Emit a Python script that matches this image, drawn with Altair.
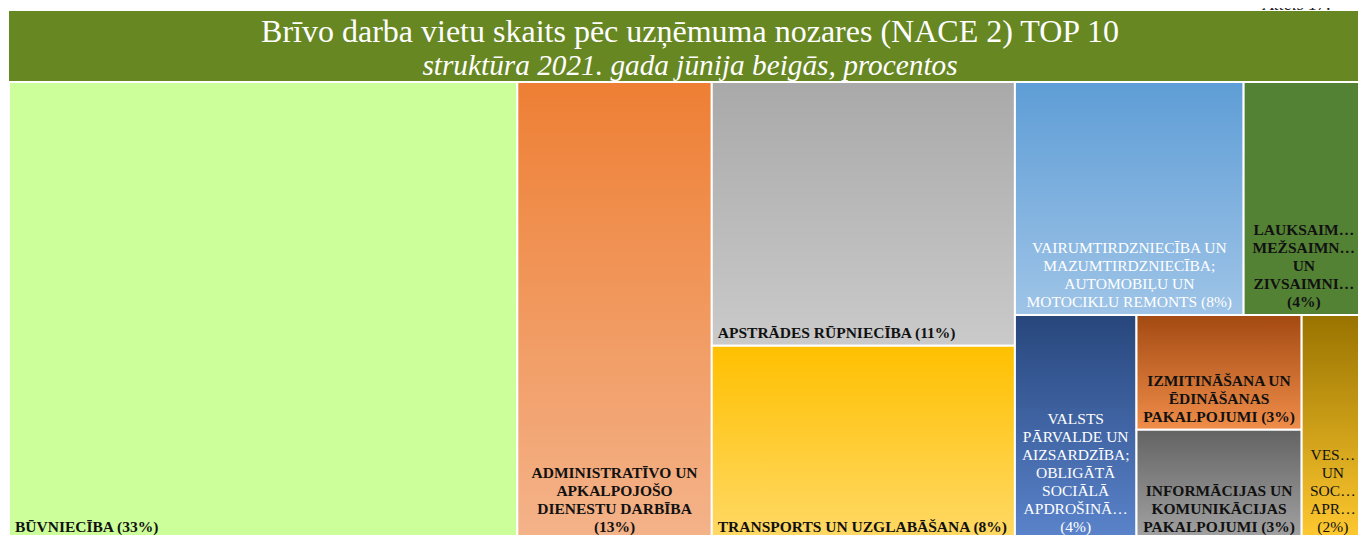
import altair as alt
import pandas as pd

# ---------------- data ----------------
categories = [
    "Būvniecība",
    "Administratīvo un apkalpojošo dienestu darbība",
    "Apstrādes rūpniecība",
    "Transports un uzglabāšana",
    "Vairumtirdzniecība un mazumtirdzniecība; automobiļu un motociklu remonts",
    "Lauksaimniecība, mežsaimniecība un zivsaimniecība",
    "Valsts pārvalde un aizsardzība; obligātā sociālā apdrošināšana",
    "Izmitināšana un ēdināšanas pakalpojumi",
    "Informācijas un komunikācijas pakalpojumi",
    "Veselība un sociālā aprūpe",
]
shares = [33.2, 12.7, 11.4, 8.4, 7.6, 4.0, 3.9, 2.7, 2.6, 2.0]

# label text as displayed (| = line break, {p} = rounded percent)
label_templates = [
    "BŪVNIECĪBA ({p}%)",
    "ADMINISTRATĪVO UN|APKALPOJOŠO|DIENESTU DARBĪBA|({p}%)",
    "APSTRĀDES RŪPNIECĪBA ({p}%)",
    "TRANSPORTS UN UZGLABĀŠANA ({p}%)",
    "VAIRUMTIRDZNIECĪBA UN|MAZUMTIRDZNIECĪBA;|AUTOMOBIĻU UN|MOTOCIKLU REMONTS ({p}%)",
    "LAUKSAIM…|MEŽSAIMN…|UN|ZIVSAIMNI…|({p}%)",
    "VALSTS|PĀRVALDE UN|AIZSARDZĪBA;|OBLIGĀTĀ|SOCIĀLĀ|APDROŠINĀ…|({p}%)",
    "IZMITINĀŠANA UN|ĒDINĀŠANAS|PAKALPOJUMI ({p}%)",
    "INFORMĀCIJAS UN|KOMUNIKĀCIJAS|PAKALPOJUMI ({p}%)",
    "VES…|UN|SOC…|APR…|({p}%)",
]

title_text = "Brīvo darba vietu skaits pēc uzņēmuma nozares (NACE 2) TOP 10"
subtitle_text = "struktūra 2021. gada jūnija beigās, procentos"
figure_text = "Attēls 17."

# ---------------- styles ----------------
fill_top = ["#CCFF99", "#EE7F34", "#A9A9A9", "#FFC000", "#5E9DD6",
            "#548235", "#27467C", "#A34A12", "#636363", "#997300"]
fill_bottom = ["#CCFF99", "#F4B38A", "#CACACA", "#FFD966", "#9FC4E7",
               "#548235", "#5B84CC", "#F08D4A", "#A3A3A3", "#FFC930"]
label_color = ["#111111", "#111111", "#111111", "#111111", "#FFFFFF",
               "#111111", "#FFFFFF", "#111111", "#111111", "#111111"]
label_align = ["left", "center", "left", "left", "center",
               "center", "center", "center", "center", "center"]
label_weight = ["bold", "bold", "bold", "bold", "normal",
                "bold", "normal", "bold", "bold", "normal"]

# nesting of the treemap: h = side by side, v = stacked
layout_tree = ("h", [0, 1, ("v", [2, 3]),
                     ("v", [("h", [4, 5]), ("h", [6, ("v", [7, 8]), 9])])])


def node_total(node):
    if isinstance(node, int):
        return shares[node]
    return sum(node_total(k) for k in node[1])


def place(node, x0, y0, x1, y1, out):
    if isinstance(node, int):
        out[node] = (x0, y0, x1, y1)
        return
    kind, kids = node
    s = sum(node_total(k) for k in kids)
    pos = x0 if kind == "h" else y0
    for k in kids:
        frac = node_total(k) / s
        if kind == "h":
            nxt = pos + (x1 - x0) * frac
            place(k, pos, y0, nxt, y1, out)
        else:
            nxt = pos + (y1 - y0) * frac
            place(k, x0, pos, x1, nxt, out)
        pos = nxt


rects = {}
place(layout_tree, 0.0, 0.0, 1.0, 1.0, rects)

rows = []
for i, name in enumerate(categories):
    x0, y0, x1, y1 = rects[i]
    pct = int(shares[i] + 0.5)
    rows.append({
        "idx": i,
        "category": name,
        "share": shares[i],
        "x0": x0, "x1": x1, "y0": y0, "y1": y1,
        "tx": x0 if label_align[i] == "left" else (x0 + x1) / 2,
        "label": label_templates[i].replace("{p}", str(pct)),
        "lcolor": label_color[i],
    })
df = pd.DataFrame(rows)

W, H = 1350, 532
LINE_H = 18
# the treemap runs slightly past the right edge of the page, as in the reference
xs = alt.Scale(domain=[0, 1], range=[1, 1356])
ys = alt.Scale(domain=[0, 1], range=[74, 532])

base = alt.Chart(df)
layers = []

# title band
layers.append(
    alt.Chart(pd.DataFrame({"t": [title_text]})).mark_rect(color="#678723").encode(
        x=alt.value(1), x2=alt.value(W), y=alt.value(3), y2=alt.value(74)
    )
)

# treemap cells, each with its own vertical gradient
for i in range(len(categories)):
    grad = alt.LinearGradient(
        gradient="linear", x1=0, y1=0, x2=0, y2=1,
        stops=[alt.GradientStop(offset=0, color=fill_top[i]),
               alt.GradientStop(offset=1, color=fill_bottom[i])],
    )
    layers.append(
        base.transform_filter(alt.datum.idx == i).mark_rect(
            color=grad, stroke="white", strokeWidth=2
        ).encode(
            x=alt.X("x0:Q", scale=xs, axis=None),
            x2="x1:Q",
            y=alt.Y("y0:Q", scale=ys, axis=None),
            y2="y1:Q",
            tooltip=[alt.Tooltip("category:N"), alt.Tooltip("share:Q")],
        )
    )

# labels, anchored at the bottom of each cell (multi-line blocks lifted up)
for i in range(len(categories)):
    n_lines = label_templates[i].count("|") + 1
    align = label_align[i]
    layers.append(
        base.transform_filter(alt.datum.idx == i)
        .transform_calculate(lines="split(datum.label, '|')")
        .mark_text(
            align=align, baseline="bottom", font="Liberation Serif", fontSize=15.5,
            fontWeight=label_weight[i], lineHeight=LINE_H,
            dx=6 if align == "left" else 0, dy=-5 - (n_lines - 1) * LINE_H,
        ).encode(
            x=alt.X("tx:Q", scale=xs, axis=None),
            y=alt.Y("y1:Q", scale=ys, axis=None),
            text="lines:N",
            color=alt.Color("lcolor:N", scale=None),
        )
    )

# title texts
layers.append(
    alt.Chart(pd.DataFrame({"t": [title_text]})).mark_text(
        font="Liberation Serif", fontSize=32, color="white", align="center",
        baseline="alphabetic"
    ).encode(x=alt.value(682), y=alt.value(33.5), text="t:N")
)
layers.append(
    alt.Chart(pd.DataFrame({"t": [subtitle_text]})).mark_text(
        font="Liberation Serif", fontSize=29.3, fontStyle="italic", color="white",
        align="center", baseline="alphabetic"
    ).encode(x=alt.value(682), y=alt.value(67), text="t:N")
)
layers.append(
    alt.Chart(pd.DataFrame({"t": [figure_text]})).mark_text(
        font="Liberation Serif", fontSize=18, fontStyle="italic", color="#222222",
        align="right", baseline="alphabetic"
    ).encode(x=alt.value(1323), y=alt.value(2), text="t:N")
)

chart = alt.layer(*layers).properties(
    width=W, height=H, autosize=alt.AutoSizeParams(type="none"), padding=0,
    background="white"
).configure_view(stroke=None)

chart.save("out.html", embed_options={"renderer": "svg", "actions": False})
